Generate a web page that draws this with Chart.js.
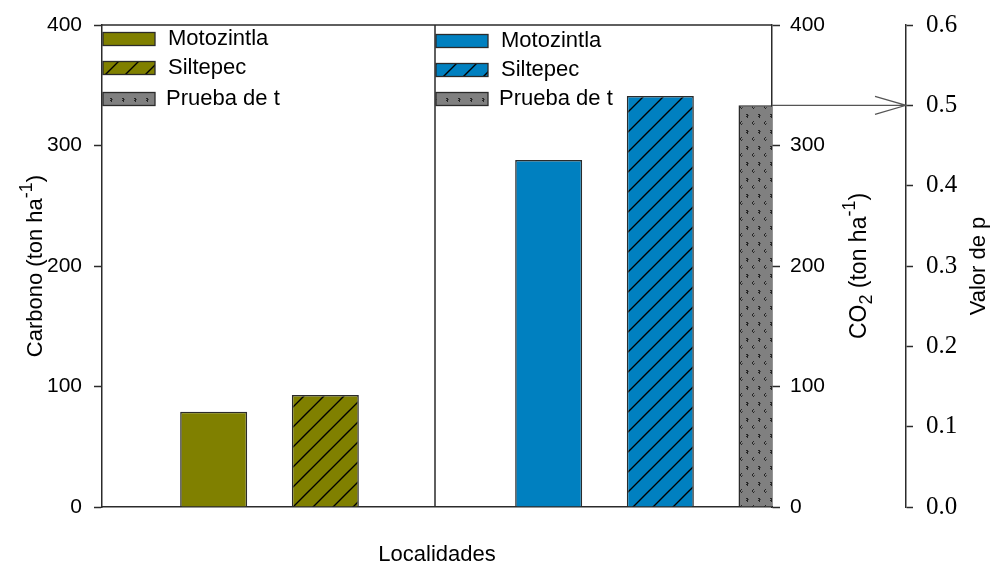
<!DOCTYPE html>
<html lang="es">
<head>
<meta charset="UTF-8">
<title>Carbono y CO2 por localidad</title>
<script src="https://cdn.jsdelivr.net/npm/chart.js"></script>
<style>
  html, body { margin: 0; padding: 0; background: #fff; }
  #marco { width: 992px; height: 563px; }
</style>
</head>
<body>
<div id="marco"><canvas id="grafica"></canvas></div>
<script>
// Datos por localidad (ton ha-1)
const localidades = ['Motozintla', 'Siltepec'];
const carbono = [79, 93];
const co2 = [288, 341];
const pruebaT = 'Prueba de t';
const valorP = 0.5;

// Ticks de los ejes
const ticksCarbono = [0, 100, 200, 300, 400];
const ticksP = [0, 0.1, 0.2, 0.3, 0.4, 0.5, 0.6];

// Ranuras del eje x: panel carbono | panel CO2 | prueba t
const ranuras = ['', localidades[0], localidades[1], '', localidades[0], localidades[1], pruebaT];

const OLIVO = '#808000';
const AZUL = '#0080c0';
const GRIS = '#808080';
const LINEA = '#2b2b2b';
const SANS = '"Liberation Sans", Arial, sans-serif';
const SERIF = '"Liberation Serif", "Times New Roman", serif';

function rayado(color) {
  const c = document.createElement('canvas');
  c.width = 20; c.height = 20;
  const g = c.getContext('2d');
  g.fillStyle = color;
  g.fillRect(0, 0, 20, 20);
  g.strokeStyle = '#000';
  g.lineWidth = 1.4;
  g.beginPath();
  g.moveTo(-2, 22); g.lineTo(22, -2);
  g.moveTo(-2, 2); g.lineTo(2, -2);
  g.moveTo(18, 22); g.lineTo(22, 18);
  g.stroke();
  return g.createPattern(c, 'repeat');
}

function punteado() {
  const c = document.createElement('canvas');
  c.width = 12; c.height = 16;
  const g = c.getContext('2d');
  g.fillStyle = GRIS;
  g.fillRect(0, 0, 12, 16);
  g.fillStyle = '#262626';
  // marca tipo "p"
  g.fillRect(2, 2, 2, 1); g.fillRect(3, 3, 1, 3); g.fillRect(2, 4, 1, 1);
  // marca tipo "<"
  g.fillRect(9, 9, 1, 1); g.fillRect(8, 10, 1, 2); g.fillRect(9, 12, 1, 1);
  g.fillStyle = '#4a4a4a';
  g.fillRect(4, 3, 1, 1); g.fillRect(10, 11, 1, 1);
  return g.createPattern(c, 'repeat');
}

function enRanura(i, v) {
  const d = ranuras.map(() => null);
  d[i] = v;
  return d;
}

const datasets = [
  { label: localidades[0], data: enRanura(1, carbono[0]), backgroundColor: OLIVO, yAxisID: 'y' },
  { label: localidades[1], data: enRanura(2, carbono[1]), backgroundColor: rayado(OLIVO), yAxisID: 'y' },
  { label: localidades[0], data: enRanura(4, co2[0]), backgroundColor: AZUL, yAxisID: 'yCO2' },
  { label: localidades[1], data: enRanura(5, co2[1]), backgroundColor: rayado(AZUL), yAxisID: 'yCO2' },
  { label: pruebaT, data: enRanura(6, valorP), backgroundColor: punteado(), yAxisID: 'yP' }
].map(d => Object.assign(d, {
  borderColor: LINEA, borderWidth: 1.5, borderSkipped: 'bottom',
  grouped: false, categoryPercentage: 0.6, barPercentage: 1, clip: 0
}));

// Texto con subíndices/superíndices, opcionalmente girado
function textoRico(ctx, partes, cx, cy, girar) {
  ctx.save();
  ctx.translate(cx, cy);
  if (girar) ctx.rotate(-Math.PI / 2);
  let total = 0;
  partes.forEach(p => {
    ctx.font = p.size + 'px ' + SANS;
    p.w = ctx.measureText(p.t).width;
    total += p.w;
  });
  let x = -total / 2;
  ctx.fillStyle = '#000';
  ctx.textAlign = 'left';
  ctx.textBaseline = 'alphabetic';
  partes.forEach(p => {
    ctx.font = p.size + 'px ' + SANS;
    ctx.fillText(p.t, x, p.dy || 0);
    x += p.w;
  });
  ctx.restore();
}

const extras = {
  id: 'extras',
  afterDatasetsDraw(chart) {
    const { ctx, chartArea: a, scales } = chart;
    const xDiv = scales.x.getPixelForValue(3);

    // marco superior y división entre paneles
    ctx.save();
    ctx.strokeStyle = LINEA;
    ctx.lineWidth = 1.5;
    ctx.beginPath();
    ctx.moveTo(a.left, a.top); ctx.lineTo(a.right, a.top);
    ctx.moveTo(xDiv - 2, a.top); ctx.lineTo(xDiv - 2, a.bottom);
    ctx.stroke();

    // flecha desde la barra de la prueba t hasta el eje de p
    const barra = chart.getDatasetMeta(4).data[6];
    const xP = scales.yP.left;
    const yB = barra.y;
    ctx.strokeStyle = '#555';
    ctx.lineWidth = 1.2;
    ctx.beginPath();
    ctx.moveTo(a.right, yB); ctx.lineTo(xP, yB);
    ctx.moveTo(xP - 31, yB - 9); ctx.lineTo(xP, yB); ctx.lineTo(xP - 31, yB + 9);
    ctx.stroke();

    // leyenda en dos columnas
    const grupos = [
      { x: a.left + 1, filas: [0, 1, 4] },
      { x: xDiv - 1, filas: [2, 3, 4] }
    ];
    const yFilas = [39, 68, 99];
    grupos.forEach((gr, k) => {
      gr.filas.forEach((di, r) => {
        const ds = chart.data.datasets[di];
        const y = yFilas[r] + (k === 1 && r < 2 ? 2 : 0);
        ctx.fillStyle = ds.backgroundColor;
        ctx.fillRect(gr.x, y - 6.5, 52, 13);
        ctx.strokeStyle = LINEA;
        ctx.lineWidth = 1.3;
        ctx.strokeRect(gr.x, y - 6.5, 52, 13);
        ctx.fillStyle = '#000';
        ctx.font = '22px ' + SANS;
        ctx.textBaseline = 'middle';
        ctx.textAlign = 'left';
        ctx.fillText(ds.label, gr.x + 65 - (di === 4 ? 2 : 0), y);
      });
    });
    ctx.restore();

    // títulos de los ejes
    const yMed = (a.top + a.bottom) / 2;
    textoRico(ctx, [
      { t: 'Carbono (ton ha', size: 22 },
      { t: '-1', size: 18, dy: -10 },
      { t: ')', size: 22 }
    ], 42, yMed, true);
    textoRico(ctx, [
      { t: 'CO', size: 23 },
      { t: '2', size: 18, dy: 6 },
      { t: ' (ton ha', size: 23 },
      { t: '-1', size: 18, dy: -11 },
      { t: ')', size: 23 }
    ], 866, yMed, true);
    textoRico(ctx, [{ t: 'Valor de p', size: 22 }], 985, yMed, true);
    textoRico(ctx, [{ t: 'Localidades', size: 22 }], (a.left + a.right) / 2, 561, false);
  }
};

// Ejes verticales con ancho fijo y sin relleno extra por las etiquetas
const ejeY = (min, max, ticks, fuente, padding, tl, ancho) => ({
  min, max,
  afterBuildTicks(s) { s.ticks = ticks.map(v => ({ value: v })); },
  afterFit(s) { s.width = ancho; s.paddingTop = 0; s.paddingBottom = 0; },
  ticks: { color: '#000', font: fuente, padding },
  grid: { drawOnChartArea: false, drawTicks: true, tickLength: tl, tickColor: LINEA, tickWidth: 1.5 },
  border: { color: LINEA, width: 1.5 }
});

const ejeP = ejeY(0, 0.6, ticksP, { family: SERIF, size: 25 }, 13, 7, 86);
ejeP.ticks.callback = v => v.toFixed(1);

new Chart(document.getElementById('grafica'), {
  type: 'bar',
  data: { labels: ranuras, datasets },
  options: {
    responsive: true,
    maintainAspectRatio: false,
    animation: false,
    layout: { padding: { top: 25, left: 0, right: 0, bottom: 0 } },
    plugins: { legend: { display: false }, tooltip: { enabled: false } },
    scales: {
      x: {
        offset: false,
        grid: { display: false },
        ticks: { display: false },
        border: { display: true, color: LINEA, width: 1.5 },
        afterFit(s) { s.height = 56; s.paddingLeft = 0; s.paddingRight = 0; }
      },
      y: Object.assign(ejeY(0, 400, ticksCarbono, { family: SANS, size: 21 }, 12, 8, 102), {
        position: 'left'
      }),
      yCO2: Object.assign(ejeY(0, 400, ticksCarbono, { family: SANS, size: 21 }, 10, 8, 134), {
        position: 'right', weight: 0
      }),
      yP: Object.assign(ejeP, { position: 'right', weight: 1 })
    }
  },
  plugins: [extras]
});
</script>
</body>
</html>
